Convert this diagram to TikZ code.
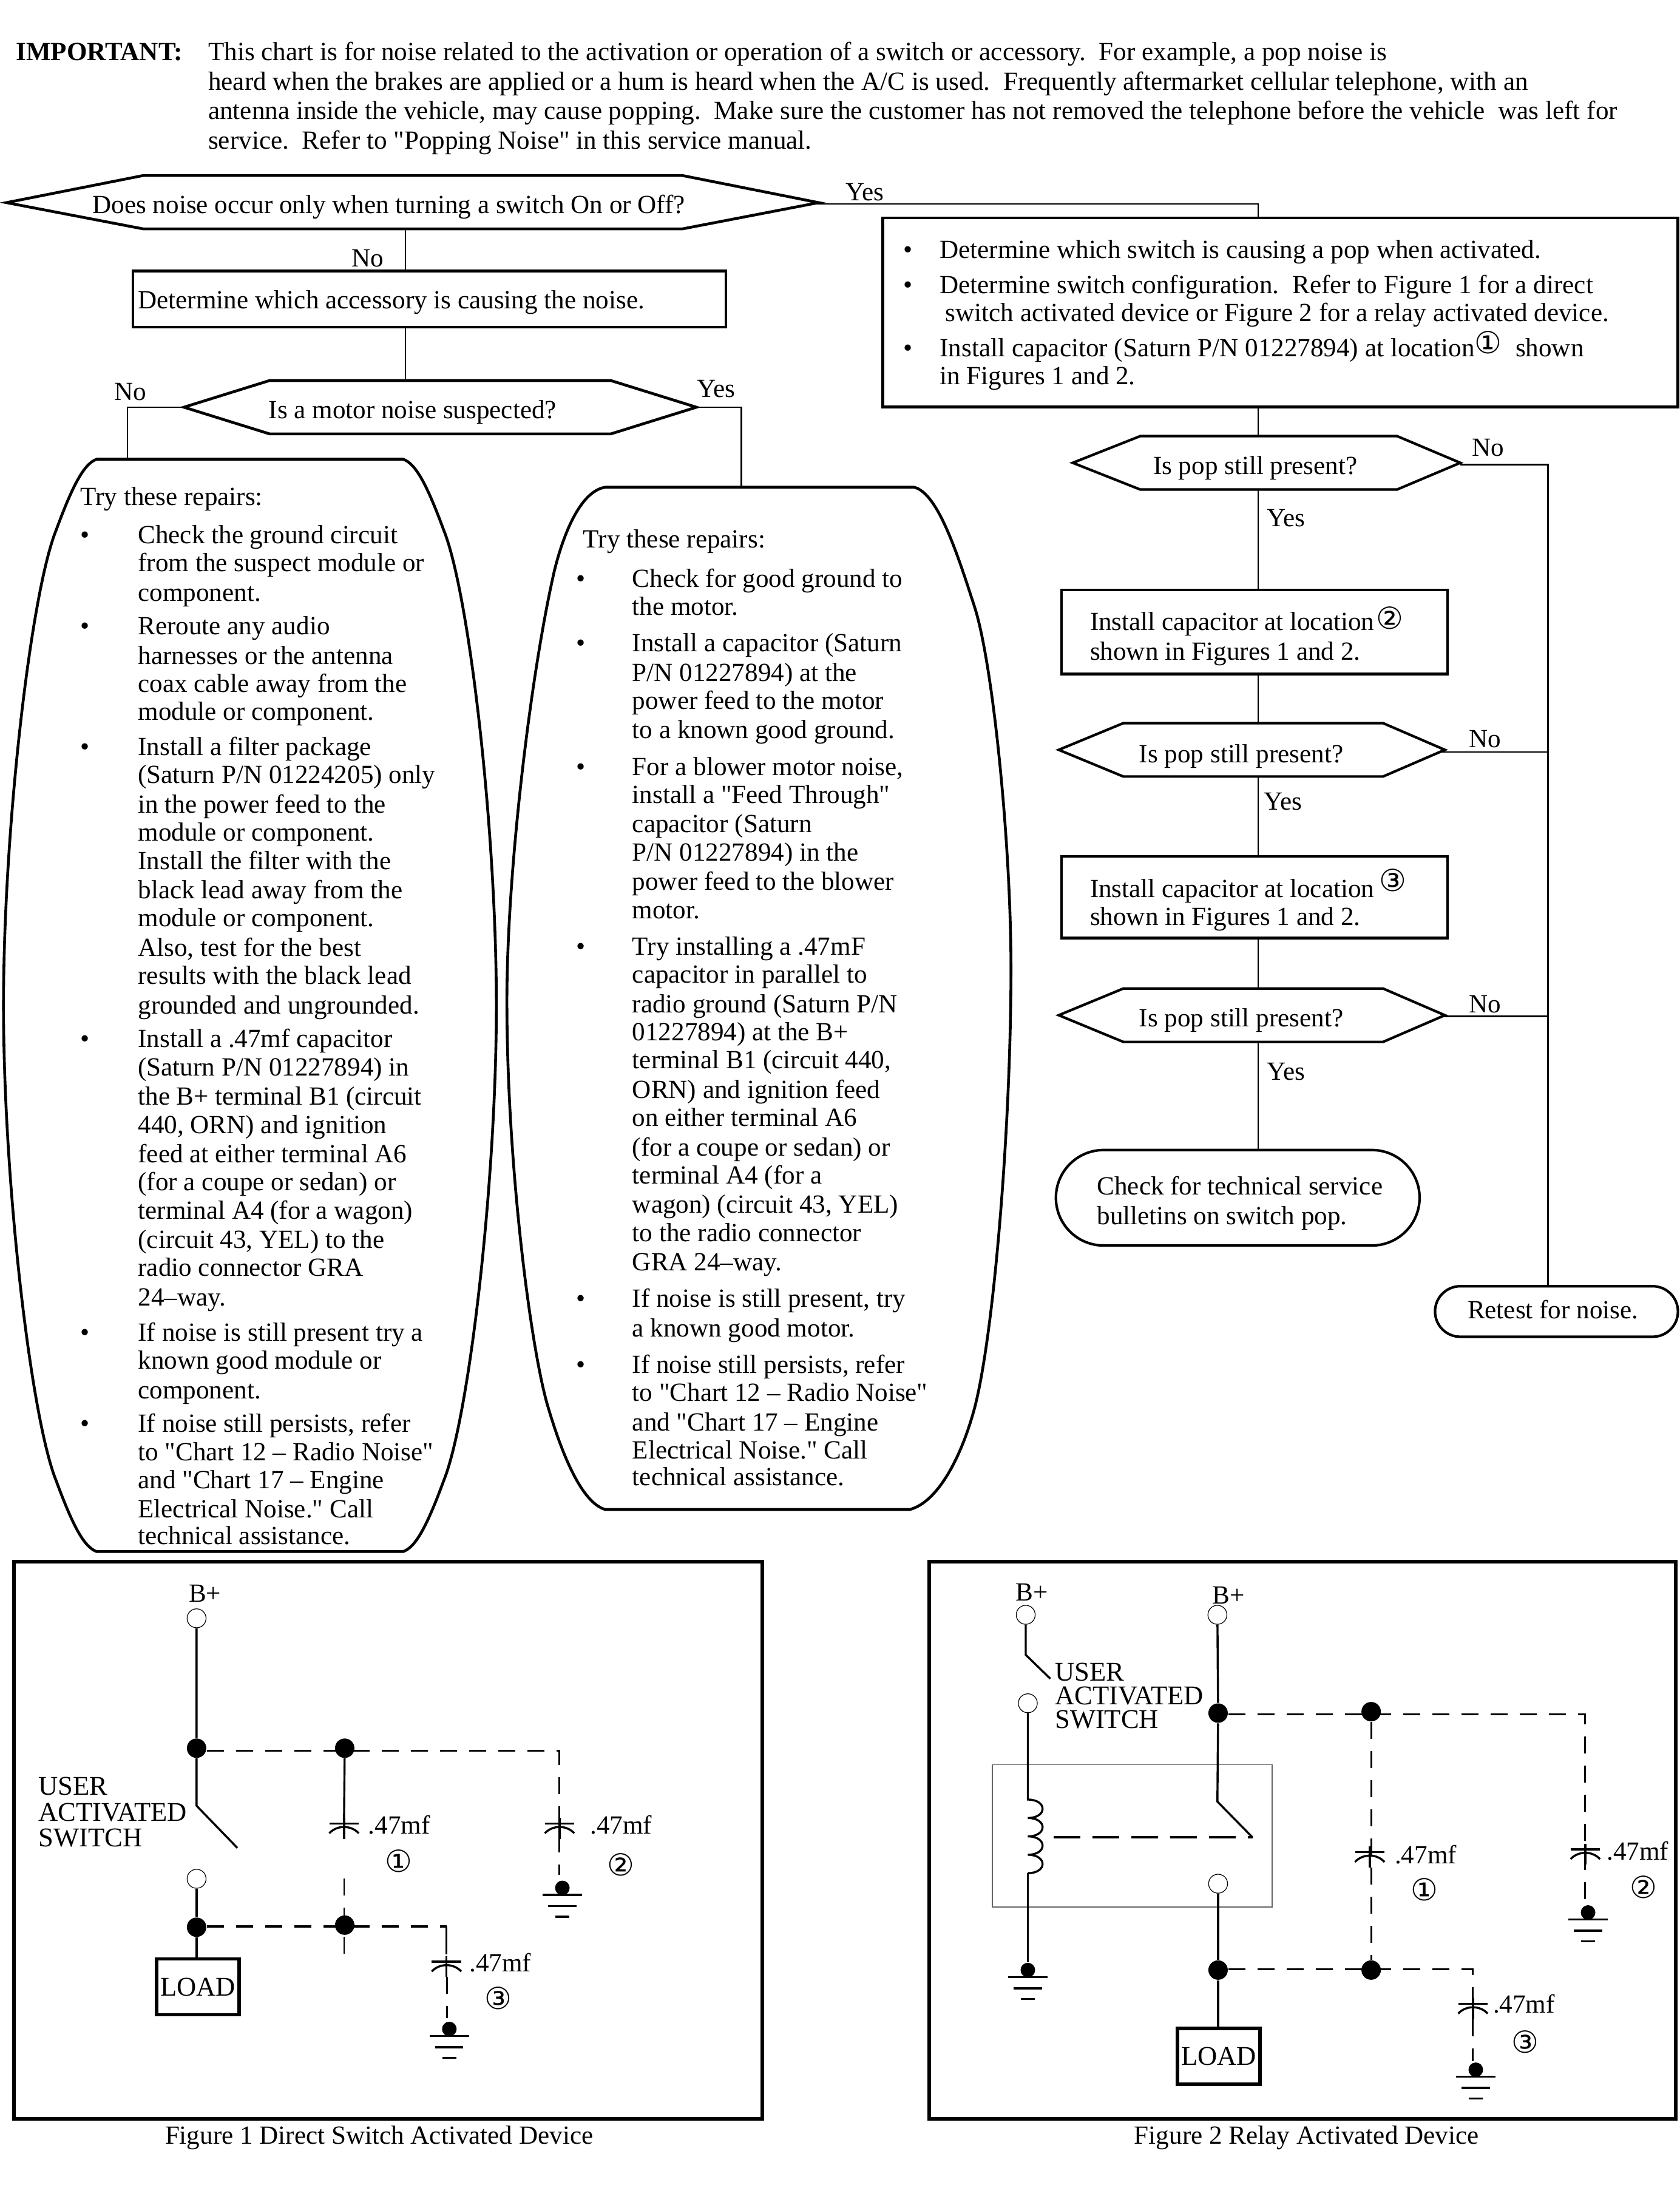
\documentclass[tikz,border=0pt]{standalone}
\usepackage{fontspec}
\setmainfont{Liberation Serif}
\newfontfamily\bodyfont{Liberation Serif}
\newfontfamily\symfont{DejaVu Sans}
\newcounter{tlc}
\newcommand\figtxt{\fontsize{11.15}{12}\selectfont}
\tikzset{
  x=0.5784pt,y=-0.5784pt,
  lbl/.style={inner sep=0pt,anchor=base west,font=\bodyfont\fontsize{10.78}{12}\selectfont},
  clbl/.style={inner sep=0pt,anchor=base,font=\bodyfont\fontsize{10.78}{12}\selectfont},
  wire/.style={line width=0.65pt,line cap=butt},
  heavy/.style={line width=1.15pt,line join=miter},
  mid/.style={line width=1.05pt,line join=miter},
  fig/.style={line width=1.5pt},
  circ/.style={line width=0.85pt},
  dashw/.style={line width=0.75pt,dash pattern=on 7pt off 5pt},
  opencirc/.style={circle,draw,line width=0.3pt,inner sep=0pt,minimum size=7.8pt,fill=white},
  dotn/.style={circle,fill=black,inner sep=0pt,minimum size=8pt},
  gdot/.style={circle,fill=black,inner sep=0pt,minimum size=6pt},
  numc/.style={inner sep=0pt,anchor=center,font=\symfont\fontsize{12.5}{14}\selectfont},
  loadbox/.style={draw,line width=1.4pt,inner sep=0pt,minimum height=23pt,font=\bodyfont\figtxt},
  swlabel/.style={inner sep=0pt,anchor=north west,align=left},
}
\newcommand\TL[3]{\stepcounter{tlc}\node[lbl] (tl\arabic{tlc}) at (#1,#2+6) {#3};}
\newcommand\TC[3]{\stepcounter{tlc}\node[clbl] (tl\arabic{tlc}) at (#1,#2+6) {#3};}
\newcommand\NUM[3]{\stepcounter{tlc}\node[numc] (tl\arabic{tlc}) at (#1,#2) {#3};}
\newcommand\capsym[2]{%
  \draw[circ] (#1-10.5,#2) -- (#1+10.5,#2);
  \draw[circ] (#1-10.5,#2+7) .. controls (#1-5,#2+1) and (#1+5,#2+1) .. (#1+10.5,#2+7);
  \draw[circ] (#1,#2-4) -- (#1,#2+11);}
\newcommand\gndsym[3]{%
  \node[gdot] (#3) at (#1,#2-5) {};
  \draw[circ] (#1-14,#2) -- (#1+14,#2);
  \draw[circ] (#1-10,#2+8) -- (#1+10,#2+8);
  \draw[circ] (#1-5,#2+15.5) -- (#1+5,#2+15.5);}
\begin{document}
\begin{tikzpicture}
\useasboundingbox (0,0) rectangle (1196.1,1568.2);
% intro
\node[lbl,font=\bodyfont\bfseries\fontsize{10.78}{12}\selectfont] (imp) at (11,43) {IMPORTANT:};
\TL{148}{37}{This chart is for noise related to the activation or operation of a switch or accessory.\ \ For example, a pop noise is}
\TL{148}{58}{heard when the brakes are applied or a hum is heard when the A/C is used.\ \ Frequently aftermarket cellular telephone, with an}
\TL{148}{79}{antenna inside the vehicle, may cause popping.\ \ Make sure the customer has not removed the telephone before the vehicle\ \ was left for}
\TL{148}{100}{service.\ \ Refer to "Popping Noise" in this service manual.}

% decision 1
\draw[heavy] (4.6,144.3) -- (102,125) -- (486,125) -- (583,144.3) -- (486,163) -- (102,163) -- cycle;
\coordinate (h1r) at (583,144.3); \coordinate (h1b) at (288.7,163);
\TL{65.6}{146}{Does noise occur only when turning a switch On or Off?}
\coordinate (r1t) at (288.7,193); \coordinate (r1b) at (288.7,233);
\draw[heavy] (94.6,193) rectangle (517,233);
\TL{98}{214}{Determine which accessory is causing the noise.}
\draw[wire] (h1b) -- (r1t);
\TC{262}{184}{No}
% decision 2
\draw[heavy] (131,290) -- (192,271) -- (435,271) -- (496,290) -- (435,309) -- (192,309) -- cycle;
\coordinate (h2t) at (288.7,271); \coordinate (h2l) at (131,290); \coordinate (h2r) at (496,290);
\draw[wire] (r1b) -- (h2t);
\TL{191}{292}{Is a motor noise suspected?}
\TC{93}{279}{No}
\TC{510}{277}{Yes}
% left repairs shape
\draw[heavy] (69,327) -- (287,327)
  .. controls (296,330) and (304,345) .. (316,377.5)
  .. controls (334,422) and (353.5,590) .. (353.5,716)
  .. controls (353.5,842) and (334,1010) .. (316,1054.5)
  .. controls (304,1087) and (296,1102) .. (287,1105) -- (69,1105)
  .. controls (60,1102) and (52,1087) .. (40,1054.5)
  .. controls (22,1010) and (2.5,842) .. (2.5,716)
  .. controls (2.5,590) and (22,422) .. (40,377.5)
  .. controls (52,345) and (60,330) .. (69,327) -- cycle;
\coordinate (sl) at (90.7,327);
\draw[wire] (h2l) -| (sl);
% right repairs shape
\draw[heavy] (431,347) -- (651,347)
  .. controls (668,351) and (682,395) .. (694,432)
  .. controls (707,472) and (720,600) .. (720,690)
  .. controls (720,800) and (708,950) .. (694,1003)
  .. controls (684,1040) and (667,1070) .. (648,1075) -- (431,1075)
  .. controls (414,1070) and (400,1035) .. (390,1001)
  .. controls (378,960) and (361,830) .. (361,713)
  .. controls (361,620) and (378,480) .. (394.7,407)
  .. controls (400,385) and (412,350) .. (431,347) -- cycle;
\coordinate (sr) at (528,347);
\draw[wire] (h2r) -| (sr);

% left list
\TL{57}{354}{Try these repairs:}
\TL{57}{381}{•} \TL{57}{446}{•} \TL{57}{532}{•} \TL{57}{740}{•} \TL{57}{949}{•} \TL{57}{1014}{•}
\TL{98}{381}{Check the ground circuit}
\TL{98}{401}{from the suspect module or}
\TL{98}{422}{component.}
\TL{98}{446}{Reroute any audio}
\TL{98}{467}{harnesses or the antenna}
\TL{98}{487}{coax cable away from the}
\TL{98}{507}{module or component.}
\TL{98}{532}{Install a filter package}
\TL{98}{552}{(Saturn P/N 01224205) only}
\TL{98}{573}{in the power feed to the}
\TL{98}{593}{module or component.}
\TL{98}{613}{Install the filter with the}
\TL{98}{634}{black lead away from the}
\TL{98}{654}{module or component.}
\TL{98}{675}{Also, test for the best}
\TL{98}{695}{results with the black lead}
\TL{98}{716}{grounded and ungrounded.}
\TL{98}{740}{Install a .47mf capacitor}
\TL{98}{760}{(Saturn P/N 01227894) in}
\TL{98}{781}{the B+ terminal B1 (circuit}
\TL{98}{801}{440, ORN) and ignition}
\TL{98}{822}{feed at either terminal A6}
\TL{98}{842}{(for a coupe or sedan) or}
\TL{98}{862}{terminal A4 (for a wagon)}
\TL{98}{883}{(circuit 43, YEL) to the}
\TL{98}{903}{radio connector GRA}
\TL{98}{924}{24–way.}
\TL{98}{949}{If noise is still present try a}
\TL{98}{969}{known good module or}
\TL{98}{990}{component.}
\TL{98}{1014}{If noise still persists, refer}
\TL{98}{1034}{to "Chart 12 – Radio Noise"}
\TL{98}{1054}{and "Chart 17 – Engine}
\TL{98}{1075}{Electrical Noise." Call}
\TL{98}{1094}{technical assistance.}

% right list
\TL{415}{384}{Try these repairs:}
\TL{410}{412}{•} \TL{410}{458}{•} \TL{410}{546}{•} \TL{410}{674}{•} \TL{410}{925}{•} \TL{410}{972}{•}
\TL{450}{412}{Check for good ground to}
\TL{450}{432}{the motor.}
\TL{450}{458}{Install a capacitor (Saturn}
\TL{450}{479}{P/N 01227894) at the}
\TL{450}{499}{power feed to the motor}
\TL{450}{520}{to a known good ground.}
\TL{450}{546}{For a blower motor noise,}
\TL{450}{566}{install a "Feed Through"}
\TL{450}{587}{capacitor (Saturn}
\TL{450}{607}{P/N 01227894) in the}
\TL{450}{628}{power feed to the blower}
\TL{450}{648}{motor.}
\TL{450}{674}{Try installing a .47mF}
\TL{450}{694}{capacitor in parallel to}
\TL{450}{715}{radio ground (Saturn P/N}
\TL{450}{735}{01227894) at the B+}
\TL{450}{755}{terminal B1 (circuit 440,}
\TL{450}{776}{ORN) and ignition feed}
\TL{450}{796}{on either terminal A6}
\TL{450}{817}{(for a coupe or sedan) or}
\TL{450}{837}{terminal A4 (for a}
\TL{450}{858}{wagon) (circuit 43, YEL)}
\TL{450}{878}{to the radio connector}
\TL{450}{899}{GRA 24–way.}
\TL{450}{925}{If noise is still present, try}
\TL{450}{946}{a known good motor.}
\TL{450}{972}{If noise still persists, refer}
\TL{450}{992}{to "Chart 12 – Radio Noise"}
\TL{450}{1013}{and "Chart 17 – Engine}
\TL{450}{1033}{Electrical Noise." Call}
\TL{450}{1052}{technical assistance.}

% right column
\draw[heavy] (628.8,155.2) rectangle (1195,289.7);
\coordinate (r2t) at (896,155.2); \coordinate (r2b) at (896,289.7);
\coordinate (yj) at (896,145.3);
\draw[wire] (h1r) -- (583,145.3) -- (yj) -- (r2t);
\TL{602}{137}{Yes}
\TL{643}{178}{•} \TL{643}{203}{•} \TL{643}{248}{•}
\TL{669}{178}{Determine which switch is causing a pop when activated.}
\TL{669}{203}{Determine switch configuration.\ \ Refer to Figure 1 for a direct}
\TL{673}{223}{switch activated device or Figure 2 for a relay activated device.}
\TL{669}{248}{Install capacitor (Saturn P/N 01227894) at location}
\NUM{1060}{244}{①}
\TL{1079}{248}{shown}
\TL{669}{268}{in Figures 1 and 2.}

\draw[mid] (764,329.6) -- (812,310.6) -- (995,310.6) -- (1040,329.6) -- (995,348.6) -- (812,348.6) -- cycle;
\coordinate (h3t) at (896,310.6); \coordinate (h3b) at (896,348.6); \coordinate (h3r) at (1040,331);
\draw[wire] (r2b) -- (h3t);
\TC{894}{332}{Is pop still present?}
\TL{1048}{319}{No}
\TL{902}{369}{Yes}

\draw[mid] (756,420) rectangle (1031,480);
\coordinate (r3t) at (896,420); \coordinate (r3b) at (896,480);
\draw[wire] (h3b) -- (r3t);
\TL{776}{443}{Install capacitor at location}
\NUM{990}{440}{②}
\TL{776}{464}{shown in Figures 1 and 2.}

\draw[mid] (754,534) -- (800,515) -- (985,515) -- (1029,534) -- (985,553) -- (800,553) -- cycle;
\coordinate (h4t) at (896,515); \coordinate (h4b) at (896,553); \coordinate (h4r) at (1027,535.6);
\draw[wire] (r3b) -- (h4t);
\TC{884}{537}{Is pop still present?}
\TL{1046}{526.5}{No}
\TL{900}{571}{Yes}

\draw[mid] (756,610) rectangle (1031,668);
\coordinate (r4t) at (896,610); \coordinate (r4b) at (896,668);
\draw[wire] (h4b) -- (r4t);
\TL{776}{633}{Install capacitor at location}
\NUM{992}{627}{③}
\TL{776}{653}{shown in Figures 1 and 2.}

\draw[mid] (754,723) -- (800,704) -- (985,704) -- (1029,723) -- (985,742) -- (800,742) -- cycle;
\coordinate (h5t) at (896,704); \coordinate (h5b) at (896,742); \coordinate (h5r) at (1028,723.8);
\draw[wire] (r4b) -- (h5t);
\TC{884}{725}{Is pop still present?}
\TL{1046}{715}{No}
\TL{902}{763}{Yes}

\draw[mid] (786,819) -- (977,819) arc[start angle=90,end angle=-90,x radius=34,y radius=-34] -- (786,887) arc[start angle=270,end angle=90,x radius=34,y radius=-34] -- cycle;
\coordinate (s3t) at (896,819);
\draw[wire] (h5b) -- (s3t);
\TL{781}{845}{Check for technical service}
\TL{781}{866}{bulletins on switch pop.}

\draw[mid] (1040,916) -- (1177,916) arc[start angle=90,end angle=-90,x radius=18,y radius=-18] -- (1040,952) arc[start angle=270,end angle=90,x radius=18,y radius=-18] -- cycle;
\coordinate (s4t) at (1102.5,916); \coordinate (bus) at (1102.5,331); \coordinate (busb) at (1102.5,535.6); \coordinate (busc) at (1102.5,723.8);
\draw[wire] (h3r) -- (bus) -- (s4t);
\draw[wire] (h4r) -- (busb);
\draw[wire] (h5r) -- (busc);
\TC{1106}{933}{Retest for noise.}

% Figure 1
\draw[fig] (10,1112) rectangle (543,1509);
\TC{146}{1135}{B+}
\node[opencirc] (a1) at (140,1152.5) {};
\node[dotn] (a2) at (140,1245) {};
\coordinate (a3) at (140,1286); \coordinate (a4) at (169,1316);
\draw[circ] (a1) -- (a2) -- (a3) -- (a4);
\node[swlabel,font=\bodyfont\fontsize{11.15}{10.7pt}\selectfont] (sw1) at (27,1265.2) {USER\\ACTIVATED\\SWITCH};
\node[dotn] (a5) at (245.5,1245) {};
\coordinate (a6) at (398.5,1247);
\draw[dashw] (a2.east |- a6) -- (a6) -- (398.5,1335);
\draw[circ] (a5) -- (245,1298);
\capsym{245}{1298.6}
\capsym{398.5}{1298.6}
\TL{262}{1300}{.47mf}
\TL{420}{1300}{.47mf}
\NUM{284}{1325.5}{①}
\NUM{442}{1328}{②}
\gndsym{400.5}{1349.5}{g1}
\node[opencirc] (b1) at (140,1338) {};
\node[dotn] (b2) at (140,1372.5) {};
\node[dotn] (b3) at (245.5,1371) {};
\coordinate (b4) at (318,1372);
\node[loadbox,minimum width=34pt] (load1) at (141,1415) {LOAD};
\draw[circ] (b1) -- (b2) -- (b2 |- load1.north);
\draw[line width=1.1pt,dash pattern=on 7pt off 5pt] (b2.east |- b4) -- (b4);
\draw[wire] (b4) -- (318,1392);
\draw[dashw,line width=0.6pt] (245,1338) -- (245,1395);
\capsym{318}{1397}
\draw[dashw] (318.5,1408) -- (318.5,1437);
\TL{334}{1398}{.47mf}
\NUM{355}{1423}{③}
\gndsym{320}{1450}{g2}
\TC{270}{1521}{Figure 1 Direct Switch Activated Device}

% Figure 2
\draw[fig] (661.7,1112) rectangle (1193.5,1509);
\draw[line width=0.4pt,draw=black!60] (706.8,1256.8) rectangle (906,1358);
\TC{735}{1134}{B+}
\TC{875}{1136}{B+}
\node[opencirc] (c1) at (730.5,1150) {};
\coordinate (c2) at (730.5,1178.5); \coordinate (c3) at (748,1195.5);
\draw[circ] (c1) -- (c2) -- (c3);
\node[swlabel,font=\bodyfont\fontsize{11.15}{9.7pt}\selectfont] (sw2) at (751,1184.2) {USER\\ACTIVATED\\SWITCH};
\node[opencirc] (c4) at (732,1213) {};
\coordinate (c5) at (732,1281.6); \coordinate (c6) at (732,1334);
\draw[circ] (c4) -- (c5) .. controls (746,1281.6) and (746,1294.7) .. (732,1294.7)
  .. controls (746,1294.7) and (746,1307.8) .. (732,1307.8)
  .. controls (746,1307.8) and (746,1320.9) .. (732,1320.9)
  .. controls (746,1320.9) and (746,1334) .. (c6);
\gndsym{732}{1408}{g3}
\draw[circ] (c6) -- (g3);
\node[opencirc] (e1) at (867,1150) {};
\node[dotn] (e2) at (867.5,1220) {};
\coordinate (e3) at (867,1283); \coordinate (e4) at (892,1308.5);
\draw[circ] (e1) -- (e2) -- (e3) -- (e4);
\draw[line width=1.1pt,dash pattern=on 11pt off 5pt] (750.4,1308.5) -- (e4);
\node[opencirc] (f1) at (867.5,1341.5) {};
\node[dotn] (f2) at (867.5,1403) {};
\node[loadbox,minimum width=34pt] (load2) at (868,1464.5) {LOAD};
\draw[circ] (f1) -- (f2) -- (f2 |- load2.north);
\node[dotn] (e5) at (976.5,1219) {};
\node[dotn] (f3) at (976.5,1403) {};
\coordinate (e6) at (1129,1221);
\coordinate (f4) at (1049,1402.5);
\draw[dashw] (e2.east |- e6) -- (e6) -- (1129,1354);
\draw[dashw] (e5) -- (f3);
\draw[dashw] (f2.east |- f4) -- (f4) -- (1049,1427);
\draw[dashw] (1049,1438) -- (1049,1468);
\capsym{975.5}{1319}
\capsym{1129}{1317}
\capsym{1049}{1427}
\TL{993}{1321}{.47mf}
\TL{1144}{1318.5}{.47mf}
\TL{1063}{1427.5}{.47mf}
\NUM{1014.5}{1345.5}{①}
\NUM{1170.5}{1344}{②}
\NUM{1086}{1454}{③}
\gndsym{1131}{1367}{g4}
\gndsym{1051}{1479}{g5}
\TC{930.5}{1521}{Figure 2 Relay Activated Device}
\end{tikzpicture}
\end{document}
